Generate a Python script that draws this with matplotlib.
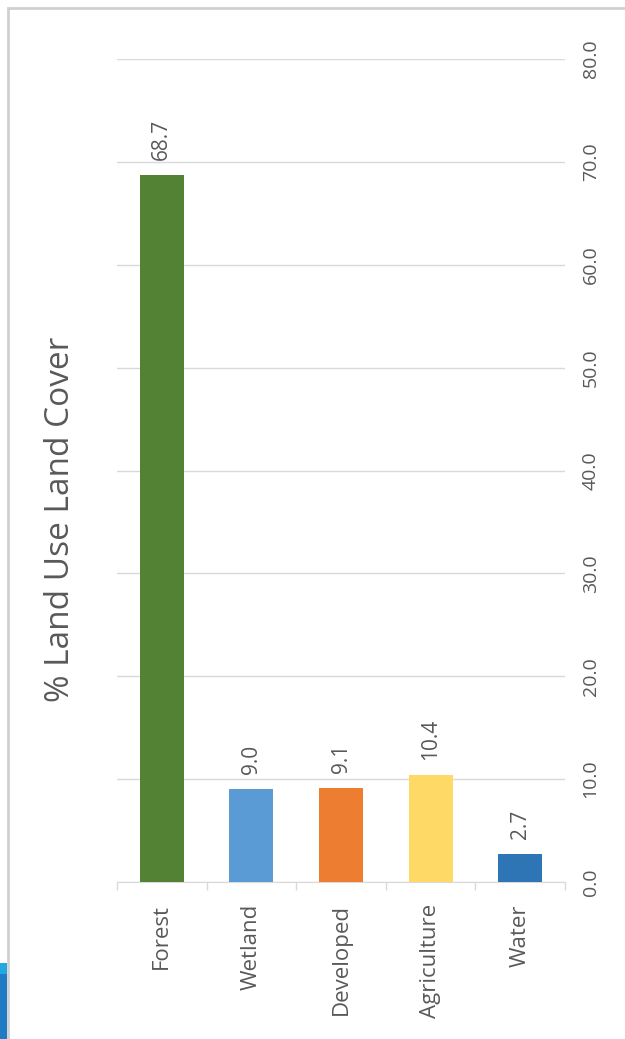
import matplotlib.pyplot as plt
from matplotlib.patches import Rectangle

categories = ['Forest', 'Wetland', 'Developed', 'Agriculture', 'Water']
values = [68.7, 9.0, 9.1, 10.4, 2.7]
colors = ['#548235', '#5B9BD5', '#ED7D31', '#FFD966', '#2E75B6']
yticks = [0, 10, 20, 30, 40, 50, 60, 70, 80]

plt.rcParams['font.family'] = ['Open Sans', 'DejaVu Sans']
grey = '#595959'

fig = plt.figure(figsize=(6.25, 10.39), dpi=100)
ax = fig.add_axes([0.1872, 0.1511, 0.7168, 0.7921])

x = range(len(categories))
bars = ax.bar(x, values, width=0.49, color=colors, zorder=3)
ax.set_xlim(-0.5, len(categories) - 0.5)
ax.set_ylim(0, 80)

for b, v in zip(bars, values):
    ax.annotate(f'{v:.1f}', (b.get_x() + b.get_width() / 2, v),
                xytext=(0, 11), textcoords='offset points',
                rotation=90, ha='center', va='bottom', fontsize=15, color=grey)

ax.yaxis.tick_right()
ax.set_yticks(yticks)
ax.set_yticklabels([f'{t:.1f}' for t in yticks], rotation=90, va='center',
                   fontsize=14, color=grey)
ax.tick_params(axis='y', length=0, pad=12)
ax.grid(axis='y', color='#D9D9D9', lw=1, zorder=0)

ax.set_xticks([i + 0.5 for i in range(-1, len(categories))], minor=False)
ax.set_xticklabels([''] * (len(categories) + 1))
ax.tick_params(axis='x', which='major', length=6, color='#D9D9D9', width=1)
ax.set_xticks(list(x), minor=True)
ax.set_xticklabels(categories, minor=True, rotation=90, va='top',
                   fontsize=16, color=grey)
ax.tick_params(axis='x', which='minor', length=0, pad=16)

for s in ['top', 'right', 'left']:
    ax.spines[s].set_visible(False)
ax.spines['bottom'].set_color('#D9D9D9')

fig.text(0.097, 0.50, '% Land Use Land Cover', rotation=90, ha='center',
         va='center', fontsize=24, color=grey)

# screenshot frame
fig.add_artist(Rectangle((0.013, -0.01), 1.1, 1.002, transform=fig.transFigure,
                         fill=False, ec='#D0D0D0', lw=2))
fig.add_artist(Rectangle((0, 0), 0.011, 0.073, transform=fig.transFigure,
                         fc='#1F7CC4', ec='none'))
fig.add_artist(Rectangle((0, 0.063), 0.011, 0.01, transform=fig.transFigure,
                         fc='#22A8E0', ec='none'))

fig.savefig('out.png', dpi=100)
